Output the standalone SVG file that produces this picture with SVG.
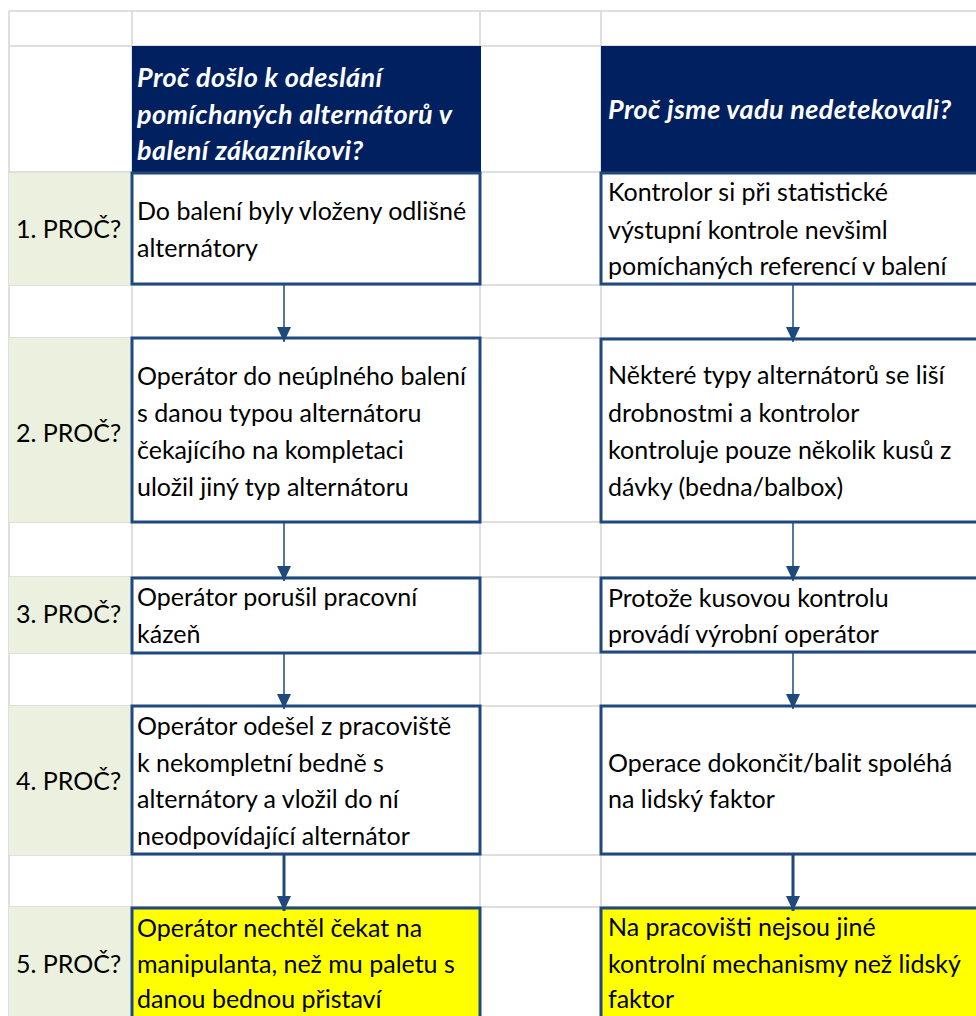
<svg xmlns="http://www.w3.org/2000/svg" width="976" height="1016" viewBox="0 0 976 1016">
  <defs>
    <marker id="head" markerUnits="userSpaceOnUse" markerWidth="16" markerHeight="16" viewBox="0 0 16 16" refX="15" refY="8" orient="auto">
      <path d="M0,1 L15,8 L0,15 Z" fill="#1f497d"/>
    </marker>
    <style>
      .grid { stroke: #d4d4d4; stroke-width: 1.5; fill: none; }
      .label { fill: #ebf1de; }
      .head { fill: #002060; }
      .box { fill: #ffffff; stroke: #1f497d; stroke-width: 3; }
      .box.hl { fill: #ffff00; }
      .txt { font-family: Lato, "Liberation Sans", sans-serif; font-size: 25px; fill: #000000; }
      .htxt { font-family: Lato, "Liberation Sans", sans-serif; font-size: 27px; letter-spacing: 0.4px; font-weight: bold; font-style: italic; fill: #ffffff; }
      .conn { stroke: #1f497d; stroke-width: 1.5; fill: none; }
      .conn.thick { stroke-width: 3; }
    </style>
  </defs>

  <rect width="976" height="1016" fill="#ffffff"/>

  <!-- sheet gridlines -->
  <g id="grid" class="grid">
    <line x1="9" y1="11" x2="976" y2="11"/>
    <line x1="9" y1="46" x2="976" y2="46"/>
    <line x1="9" y1="172" x2="976" y2="172"/>
    <line x1="9" y1="285" x2="976" y2="285"/>
    <line x1="9" y1="338" x2="976" y2="338"/>
    <line x1="9" y1="522" x2="976" y2="522"/>
    <line x1="9" y1="577" x2="976" y2="577"/>
    <line x1="9" y1="653" x2="976" y2="653"/>
    <line x1="9" y1="706" x2="976" y2="706"/>
    <line x1="9" y1="855" x2="976" y2="855"/>
    <line x1="9" y1="907" x2="976" y2="907"/>
    <line x1="9" y1="11" x2="9" y2="1016"/>
    <line x1="132" y1="11" x2="132" y2="1016"/>
    <line x1="480" y1="11" x2="480" y2="1016"/>
    <line x1="601" y1="11" x2="601" y2="1016"/>
  </g>

  <!-- row labels -->
  <g id="label-1"><rect class="label" x="9" y="173" width="122" height="112"/><text class="txt" x="16" y="238">1. PROČ?</text></g>
  <g id="label-2"><rect class="label" x="9" y="338" width="122" height="184"/><text class="txt" x="16" y="442">2. PROČ?</text></g>
  <g id="label-3"><rect class="label" x="9" y="577" width="122" height="76"/><text class="txt" x="16" y="623">3. PROČ?</text></g>
  <g id="label-4"><rect class="label" x="9" y="706" width="122" height="149"/><text class="txt" x="16" y="790">4. PROČ?</text></g>
  <g id="label-5"><rect class="label" x="9" y="907" width="122" height="109"/><text class="txt" x="16" y="973">5. PROČ?</text></g>

  <!-- column headers -->
  <g id="header-left">
    <rect class="head" x="132" y="46" width="349" height="126"/>
    <text class="htxt" x="137" y="87">Proč došlo k odeslání</text>
    <text class="htxt" x="137" y="124">pomíchaných alternátorů v</text>
    <text class="htxt" x="137" y="160">balení zákazníkovi?</text>
  </g>
  <g id="header-right">
    <rect class="head" x="601" y="46" width="375" height="126"/>
    <text class="htxt" x="608" y="119">Proč jsme vadu nedetekovali?</text>
  </g>

  <!-- left chain -->
  <g id="left-1">
    <rect class="box" x="132" y="173" width="348" height="111"/>
    <text class="txt" x="137" y="220">Do balení byly vloženy odlišné</text>
    <text class="txt" x="137" y="257">alternátory</text>
  </g>
  <g id="left-2">
    <rect class="box" x="132" y="338" width="348" height="184"/>
    <text class="txt" x="137" y="385">Operátor do neúplného balení</text>
    <text class="txt" x="137" y="422">s danou typou alternátoru</text>
    <text class="txt" x="137" y="459">čekajícího na kompletaci</text>
    <text class="txt" x="137" y="496">uložil jiný typ alternátoru</text>
  </g>
  <g id="left-3">
    <rect class="box" x="132" y="578" width="348" height="75"/>
    <text class="txt" x="137" y="606">Operátor porušil pracovní</text>
    <text class="txt" x="137" y="643">kázeň</text>
  </g>
  <g id="left-4">
    <rect class="box" x="132" y="706" width="348" height="148"/>
    <text class="txt" x="137" y="735">Operátor odešel z pracoviště</text>
    <text class="txt" x="137" y="772">k nekompletní bedně s</text>
    <text class="txt" x="137" y="808">alternátory a vložil do ní</text>
    <text class="txt" x="137" y="845">neodpovídající alternátor</text>
  </g>
  <g id="left-5">
    <rect class="box hl" x="132" y="908" width="348" height="120"/>
    <text class="txt" x="137" y="937">Operátor nechtěl čekat na</text>
    <text class="txt" x="137" y="973">manipulanta, než mu paletu s</text>
    <text class="txt" x="137" y="1008">danou bednou přistaví</text>
  </g>

  <!-- right chain -->
  <g id="right-1">
    <rect class="box" x="601" y="173" width="390" height="111"/>
    <text class="txt" x="608" y="201">Kontrolor si při statistické</text>
    <text class="txt" x="608" y="239">výstupní kontrole nevšiml</text>
    <text class="txt" x="608" y="275">pomíchaných referencí v balení</text>
  </g>
  <g id="right-2">
    <rect class="box" x="601" y="339" width="390" height="183"/>
    <text class="txt" x="608" y="384">Některé typy alternátorů se liší</text>
    <text class="txt" x="608" y="422">drobnostmi a kontrolor</text>
    <text class="txt" x="608" y="459">kontroluje pouze několik kusů z</text>
    <text class="txt" x="608" y="496">dávky (bedna/balbox)</text>
  </g>
  <g id="right-3">
    <rect class="box" x="601" y="578" width="390" height="74"/>
    <text class="txt" x="608" y="607">Protože kusovou kontrolu</text>
    <text class="txt" x="608" y="643">provádí výrobní operátor</text>
  </g>
  <g id="right-4">
    <rect class="box" x="601" y="706" width="390" height="148"/>
    <text class="txt" x="608" y="772">Operace dokončit/balit spoléhá</text>
    <text class="txt" x="608" y="808">na lidský faktor</text>
  </g>
  <g id="right-5">
    <rect class="box hl" x="601" y="908" width="390" height="120"/>
    <text class="txt" x="608" y="936">Na pracovišti nejsou jiné</text>
    <text class="txt" x="608" y="973">kontrolní mechanismy než lidský</text>
    <text class="txt" x="608" y="1008">faktor</text>
  </g>

  <!-- connectors -->
  <g id="connectors">
    <line class="conn" x1="284" y1="285" x2="284" y2="342" marker-end="url(#head)"/>
    <line class="conn" x1="284" y1="523" x2="284" y2="581" marker-end="url(#head)"/>
    <line class="conn" x1="284" y1="654" x2="284" y2="709" marker-end="url(#head)"/>
    <line class="conn thick" x1="284" y1="855" x2="284" y2="911" marker-end="url(#head)"/>
    <line class="conn" x1="793" y1="285" x2="793" y2="342" marker-end="url(#head)"/>
    <line class="conn" x1="793" y1="523" x2="793" y2="581" marker-end="url(#head)"/>
    <line class="conn" x1="793" y1="653" x2="793" y2="709" marker-end="url(#head)"/>
    <line class="conn thick" x1="793" y1="855" x2="793" y2="911" marker-end="url(#head)"/>
  </g>
</svg>
